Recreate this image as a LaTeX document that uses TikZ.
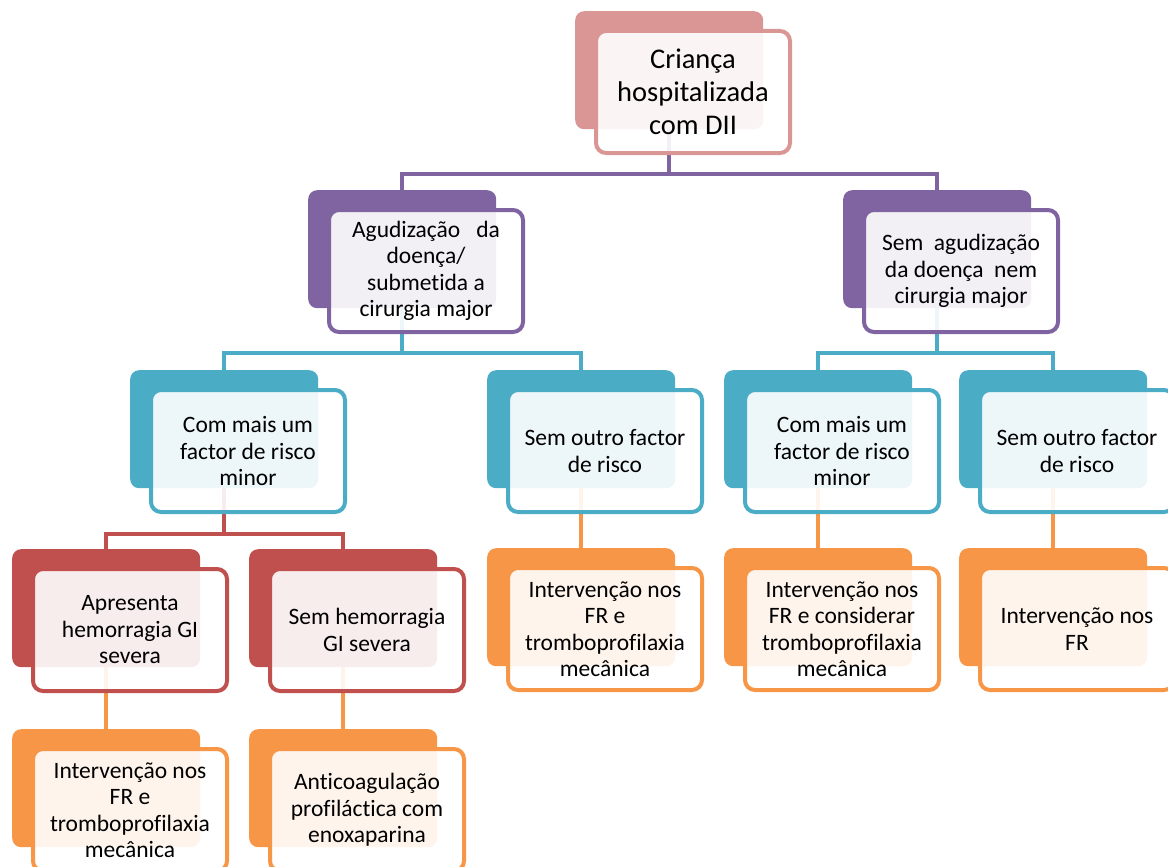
\documentclass[tikz,border=0pt]{standalone}
\usepackage{fontspec}
\setmainfont{Carlito}[Ligatures=NoCommon]
\usetikzlibrary{calc}
\definecolor{cpink}{HTML}{DA9694}
\definecolor{cpurple}{HTML}{8064A2}
\definecolor{cteal}{HTML}{4BACC6}
\definecolor{cred}{HTML}{C0504D}
\definecolor{corange}{HTML}{F79646}
\pgfdeclarelayer{bg}
\pgfsetlayers{bg,main}
\tikzset{
 backbox/.style={rectangle, rounded corners=9pt, fill=#1, draw=none, minimum width=188pt, minimum height=118pt, inner sep=0pt, anchor=north west},
 frontbox/.style={rectangle, rounded corners=10pt, draw=#1, line width=4pt, fill=white, fill opacity=0.9, text opacity=1, minimum width=194pt, minimum height=122pt, inner sep=2pt, align=center, anchor=north west, font=\fontsize{23.5}{26.5}\selectfont},
 link/.style={draw=#1, line width=4.5pt},
}
\newcommand\dbx[5][]{%
 \node[backbox=#3] (#2-b) at (#4) {};
 \node[frontbox=#3,#1] (#2) at ($(#2-b.north west)+(19,18)$) {#5};}
\begin{document}
\begin{tikzpicture}[x=1pt,y=-1pt]
\useasboundingbox (0,0) rectangle (1168,867);
\dbx[font=\fontsize{28.5}{33}\selectfont]{r}{cpink}{575,11}{Criança\\hospitalizada\\com DII}
\dbx{a}{cpurple}{308,190}{Agudização\ \ \ da\\doença/\\submetida a\\cirurgia major}
\dbx{b}{cpurple}{843,190}{Sem\ \ agudização\\da doença\ \ nem\\cirurgia major}
\dbx{aa}{cteal}{130,370}{Com mais um\\factor de risco\\minor}
\dbx{ab}{cteal}{487,370}{Sem outro factor\\de risco}
\dbx{ba}{cteal}{724,370}{Com mais um\\factor de risco\\minor}
\dbx{bb}{cteal}{959,370}{Sem outro factor\\de risco}
\dbx{aaa}{cred}{12,549}{Apresenta\\hemorragia GI\\severa}
\dbx{aab}{cred}{249,549}{Sem hemorragia\\GI severa}
\dbx{abc}{corange}{487,548}{Intervenção nos\\FR e\\tromboprofilaxia\\mecânica}
\dbx{bac}{corange}{724,548}{Intervenção nos\\FR e considerar\\tromboprofilaxia\\mecânica}
\dbx{bbc}{corange}{959,548}{Intervenção nos\\FR}
\dbx{aaac}{corange}{12,729}{Intervenção nos\\FR e\\tromboprofilaxia\\mecânica}
\dbx{aabc}{corange}{249,729}{Anticoagulação\\profiláctica com\\enoxaparina}
\begin{pgfonlayer}{bg}
\coordinate (rbar) at ($(r.south)+(0,19)$);
\coordinate (abar) at ($(a.south)+(0,19)$);
\coordinate (bbar) at ($(b.south)+(0,19)$);
\coordinate (aabar) at ($(aa.south)+(0,20)$);
\draw[link=cpurple] (r-b.south) -- (r-b.south |- rbar);
\draw[link=cpurple] (a-b.north) |- (rbar) -| (b-b.north);
\draw[link=cteal] (a-b.south) -- (a-b.south |- abar);
\draw[link=cteal] (aa-b.north) |- (abar) -| (ab-b.north);
\draw[link=cteal] (b-b.south) -- (b-b.south |- bbar);
\draw[link=cteal] (ba-b.north) |- (bbar) -| (bb-b.north);
\draw[link=cred] (aa-b.south) -- (aa-b.south |- aabar);
\draw[link=cred] (aaa-b.north) |- (aabar) -| (aab-b.north);
\draw[link=corange] (ab-b.south) -- (abc-b.north);
\draw[link=corange] (ba-b.south) -- (bac-b.north);
\draw[link=corange] (bb-b.south) -- (bbc-b.north);
\draw[link=corange] (aaa-b.south) -- (aaac-b.north);
\draw[link=corange] (aab-b.south) -- (aabc-b.north);
\end{pgfonlayer}
\end{tikzpicture}
\end{document}
